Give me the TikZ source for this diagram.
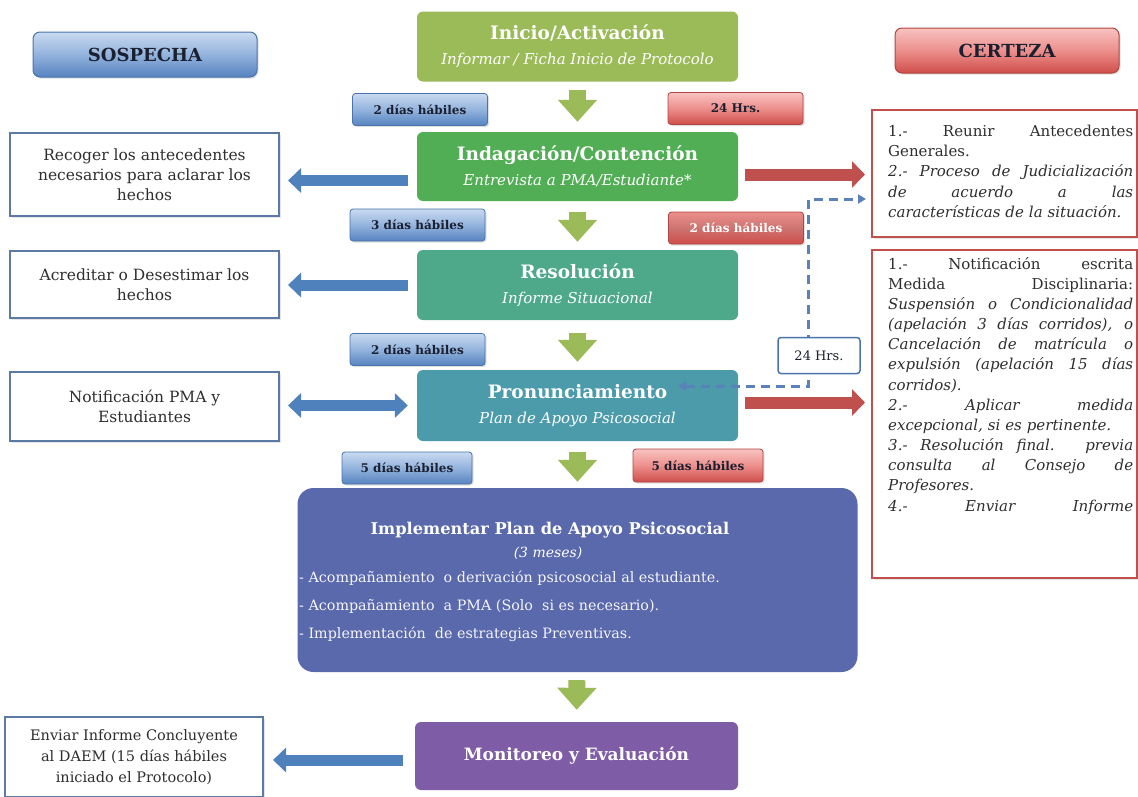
\documentclass[tikz,border=0pt]{standalone}
\usepackage{fontspec}
\setmainfont{DejaVu Serif}
\usetikzlibrary{arrows.meta,shadows}
\definecolor{cInicio}{HTML}{9BBB59}
\definecolor{cIndag}{HTML}{52AE55}
\definecolor{cResol}{HTML}{4EA98A}
\definecolor{cPron}{HTML}{4B9BAB}
\definecolor{cImpl}{HTML}{5A68AC}
\definecolor{cMonit}{HTML}{7F5CA6}
\definecolor{cGreenArr}{HTML}{9BBB59}
\definecolor{cBlue}{HTML}{4F81BD}
\definecolor{cBlueDark}{HTML}{4A74AA}
\definecolor{cBlueTop}{HTML}{C9DAF0}
\definecolor{cBlueMid}{HTML}{93B3DD}
\definecolor{cBlueBot}{HTML}{5683C0}
\definecolor{cRed}{HTML}{C0504D}
\definecolor{cRedDark}{HTML}{B04542}
\definecolor{cRedTop}{HTML}{F8C3C1}
\definecolor{cRedMid}{HTML}{EC8F8C}
\definecolor{cRedBot}{HTML}{CF4E4A}
\definecolor{cLeft}{HTML}{5B7BA6}
\definecolor{cText}{HTML}{2E2E2E}
\definecolor{cTag}{HTML}{1B2030}
\definecolor{cDash}{HTML}{5B82B8}
\newcommand\fTitle{\fontsize{18.5}{25}\selectfont\bfseries}
\newcommand\fSub{\fontsize{15}{25}\selectfont\itshape}
\newcommand\fLeft{\fontsize{15.5}{20}\selectfont}
\newcommand\fTag{\fontsize{12}{14}\selectfont\bfseries}
\newcommand\fCert{\fontsize{15}{20.15}\selectfont}
\newcommand\jl[1]{\makebox[245pt][s]{\spaceskip=0pt\xspaceskip=0pt #1}}
\begin{document}
\begin{tikzpicture}[x=1pt,y=-1pt,
  mainbox/.style={rounded corners=6pt, minimum width=321pt, minimum height=70pt,
    inner sep=2pt, align=center, text=white, font=\fontsize{18}{25}\selectfont},
  headb/.style={rounded corners=7pt, minimum width=224pt, minimum height=45pt,
    top color=cBlueTop, bottom color=cBlueBot, middle color=cBlueMid, draw=cBlueDark,
    line width=1pt, font=\fontsize{18}{20}\selectfont\bfseries, text=cTag,
    drop shadow={opacity=0.25, shadow xshift=1.5pt, shadow yshift=-1.5pt}},
  headr/.style={headb, top color=cRedTop, bottom color=cRedBot, middle color=cRedMid, draw=cRedDark},
  tagb/.style={rounded corners=3pt, minimum width=135pt, minimum height=32pt, inner sep=0pt,
    top color=cBlueTop, bottom color=cBlueBot, middle color=cBlueMid, draw=cBlueDark,
    line width=0.8pt, font=\fTag, text=cTag,
    drop shadow={opacity=0.25, shadow xshift=1.5pt, shadow yshift=-1.5pt}},
  tagr/.style={tagb, top color=cRedTop, bottom color=cRedBot, middle color=cRedMid, draw=cRedDark},
  leftbox/.style={draw=cLeft, line width=2pt, fill=white, minimum width=269pt, inner sep=2pt,
    align=center, text=cText, font=\fLeft,
    drop shadow={opacity=0.2, shadow xshift=1.5pt, shadow yshift=-1.5pt}},
  certbox/.style={draw=cRed, line width=2pt, fill=white,
    drop shadow={opacity=0.2, shadow xshift=1.5pt, shadow yshift=-1.5pt}},
  certtext/.style={anchor=north west, text width=245pt, align=left, inner sep=0pt,
    font=\fCert, text=cText},
  greenarr/.style={draw=cGreenArr, line width=17pt,
    -{Triangle[length=22pt 0 0, width=38pt 0 0]}, shorten <=8pt, shorten >=10pt},
  bluearr/.style={draw=cBlue, line width=11pt,
    -{Triangle[length=13pt 0 0, width=24pt 0 0]}, shorten <=9pt, shorten >=8pt},
  bluedarr/.style={bluearr, {Triangle[length=13pt 0 0, width=24pt 0 0]}-{Triangle[length=13pt 0 0, width=24pt 0 0]}},
  redarr/.style={draw=cRed, line width=12pt,
    -{Triangle[length=13pt 0 0, width=26pt 0 0]}, shorten <=7pt, shorten >=6pt},
  dashconn/.style={draw=cDash, line width=3pt, dash pattern=on 9pt off 6pt,
    {Triangle[length=8pt 0 0, width=9pt 0 0]}-{Triangle[length=8pt 0 0, width=9pt 0 0]}}
]
\fill[white] (0,0) rectangle (1138,796);
\useasboundingbox (0,0) rectangle (1138,796);

% headers
\node[headb] (sosp) at (145,54.5) {SOSPECHA};
\node[headr] (cert) at (1007,50.5) {CERTEZA};

% main flow
\node[mainbox, fill=cInicio] (inicio) at (577.5,46.5)
  {{\fTitle Inicio/Activación}\\{\fSub Informar / Ficha Inicio de Protocolo}};
\node[mainbox, fill=cIndag, minimum height=69pt] (indag) at (577.5,166.5)
  {{\fTitle Indagación/Contención}\\{\fSub Entrevista a PMA/Estudiante*}};
\node[mainbox, fill=cResol] (resol) at (577.5,285)
  {{\fTitle Resolución}\\{\fSub Informe Situacional}};
\node[mainbox, fill=cPron, minimum height=71pt] (pron) at (577.5,405.5)
  {{\fTitle Pronunciamiento}\\{\fSub Plan de Apoyo Psicosocial}};
\node[rounded corners=16pt, fill=cImpl, minimum width=560pt, minimum height=184pt] (impl) at (577.5,580) {};
\node[text=white, font=\fontsize{16.2}{20}\selectfont\bfseries, inner sep=0pt] (impltitle) at (550,530)
  {Implementar Plan de Apoyo Psicosocial};
\node[text=white, font=\fontsize{14}{16}\selectfont\itshape, inner sep=0pt] (implsub) at (548,553) {(3 meses)};
\node[anchor=west, align=left, text=white!94!cImpl, font=\fontsize{14.3}{28}\selectfont, inner sep=0pt] (implbul) at (299,606)
  {- Acompañamiento\ \ o derivación psicosocial al estudiante.\\
   - Acompañamiento\ \ a PMA (Solo\ \ si es necesario).\\
   - Implementación\ \ de estrategias Preventivas.};
\node[mainbox, fill=cMonit, minimum width=323pt, minimum height=68pt] (monit) at (576.5,756)
  {\fTitle\fontsize{17}{20}\selectfont Monitoreo y Evaluación};

% tags
\node[tagb] (t1b) at (420,109.5) {2 días hábiles};
\node[tagr] (t1r) at (735.5,108.5) {24 Hrs.};
\node[tagb] (t2b) at (417.5,225) {3 días hábiles};
\node[tagr, text=white, top color=cRedMid, middle color=cRed!80!white] (t2r) at (736,228) {2 días hábiles};
\node[tagb] (t3b) at (417.5,349.5) {2 días hábiles};
\node[tagb, minimum width=130pt] (t4b) at (407,468) {5 días hábiles};
\node[tagr, minimum width=130pt, minimum height=33pt] (t4r) at (698,465.5) {5 días hábiles};

% left boxes
\node[leftbox, minimum height=83pt] (recoger) at (144.5,174.5)
  {Recoger los antecedentes\\necesarios para aclarar los\\hechos};
\node[leftbox, minimum height=67pt] (acred) at (144.5,284.5)
  {Acreditar o Desestimar los\\hechos};
\node[leftbox, minimum height=69pt] (notif) at (144.5,406.5)
  {Notificación PMA y\\Estudiantes};
\node[leftbox, minimum width=258pt, minimum height=80pt, font=\fontsize{14.5}{21}\selectfont] (enviar) at (134,757)
  {Enviar Informe Concluyente\\al DAEM (15 días hábiles\\iniciado el Protocolo)};

% certeza boxes
\node[certbox, minimum width=265pt, minimum height=127pt] (cbox1) at (1004.5,173.5) {};
\node[certtext] (c1text) at (888,125)
  {\jl{1.- Reunir Antecedentes}\\
   Generales.\\
   \itshape\jl{2.- Proceso de Judicialización}\\
   \jl{de acuerdo a las}\\
   características de la situación.};
\node[certbox, minimum width=265pt, minimum height=328pt] (cbox2) at (1004.5,414) {};
\node[certtext] (c2text) at (888,257)
  {\jl{1.- Notificación escrita}\\
   \jl{Medida Disciplinaria:}\\
   {\itshape\jl{Suspensión o Condicionalidad}}\\
   {\itshape\jl{(apelación 3 días corridos), o}}\\
   {\itshape\jl{Cancelación de matrícula o}}\\
   {\itshape\jl{expulsión (apelación 15 días}}\\
   {\itshape corridos).}\\
   {\itshape\jl{2.- Aplicar medida}}\\
   {\itshape excepcional, si es pertinente.}\\
   {\itshape\jl{3.- Resolución final. previa}}\\
   {\itshape\jl{consulta al Consejo de}}\\
   {\itshape Profesores.}\\
   {\itshape\jl{4.- Enviar Informe}}};

% green flow arrows
\draw[greenarr] (inicio) -- (indag);
\draw[greenarr, shorten <=11pt, shorten >=8pt] (indag) -- (resol);
\draw[greenarr, shorten <=13pt, shorten >=8pt] (resol) -- (pron);
\draw[greenarr, shorten <=11pt, shorten >=6pt] (pron) -- (impl);
\draw[greenarr, shorten <=8pt, shorten >=12pt] (impl) -- (monit);

% blue side arrows
\coordinate (ia) at ([yshift=-14pt]indag.west);
\draw[bluearr] (ia) -- (ia -| recoger.east);
\draw[bluearr] (resol.west) -- (resol.west -| acred.east);
\draw[bluedarr] (pron.west) -- (pron.west -| notif.east);
\coordinate (ma) at ([yshift=-4pt]monit.west);
\draw[bluearr, shorten <=12pt, shorten >=9pt] (ma) -- (ma -| enviar.east);

% red side arrows
\coordinate (ra) at ([yshift=-8pt]indag.east);
\draw[redarr] (ra) -- (ra -| cbox1.west);
\coordinate (rb) at ([yshift=3pt]pron.east);
\draw[redarr] (rb) -- (rb -| cbox2.west);

% dashed connector
\coordinate (dA) at (678,386);
\coordinate (dB) at (866,199);
\draw[dashconn] (dA) -- (808,386) -- (808,199) -- (dB);
\node[draw=cBlueDark, line width=1.5pt, fill=white, rounded corners=3pt, minimum width=82pt,
  minimum height=36pt, font=\fontsize{13}{15}\selectfont, text=cTag] (h24) at (819,355.5) {24 Hrs.};
\end{tikzpicture}
\end{document}
